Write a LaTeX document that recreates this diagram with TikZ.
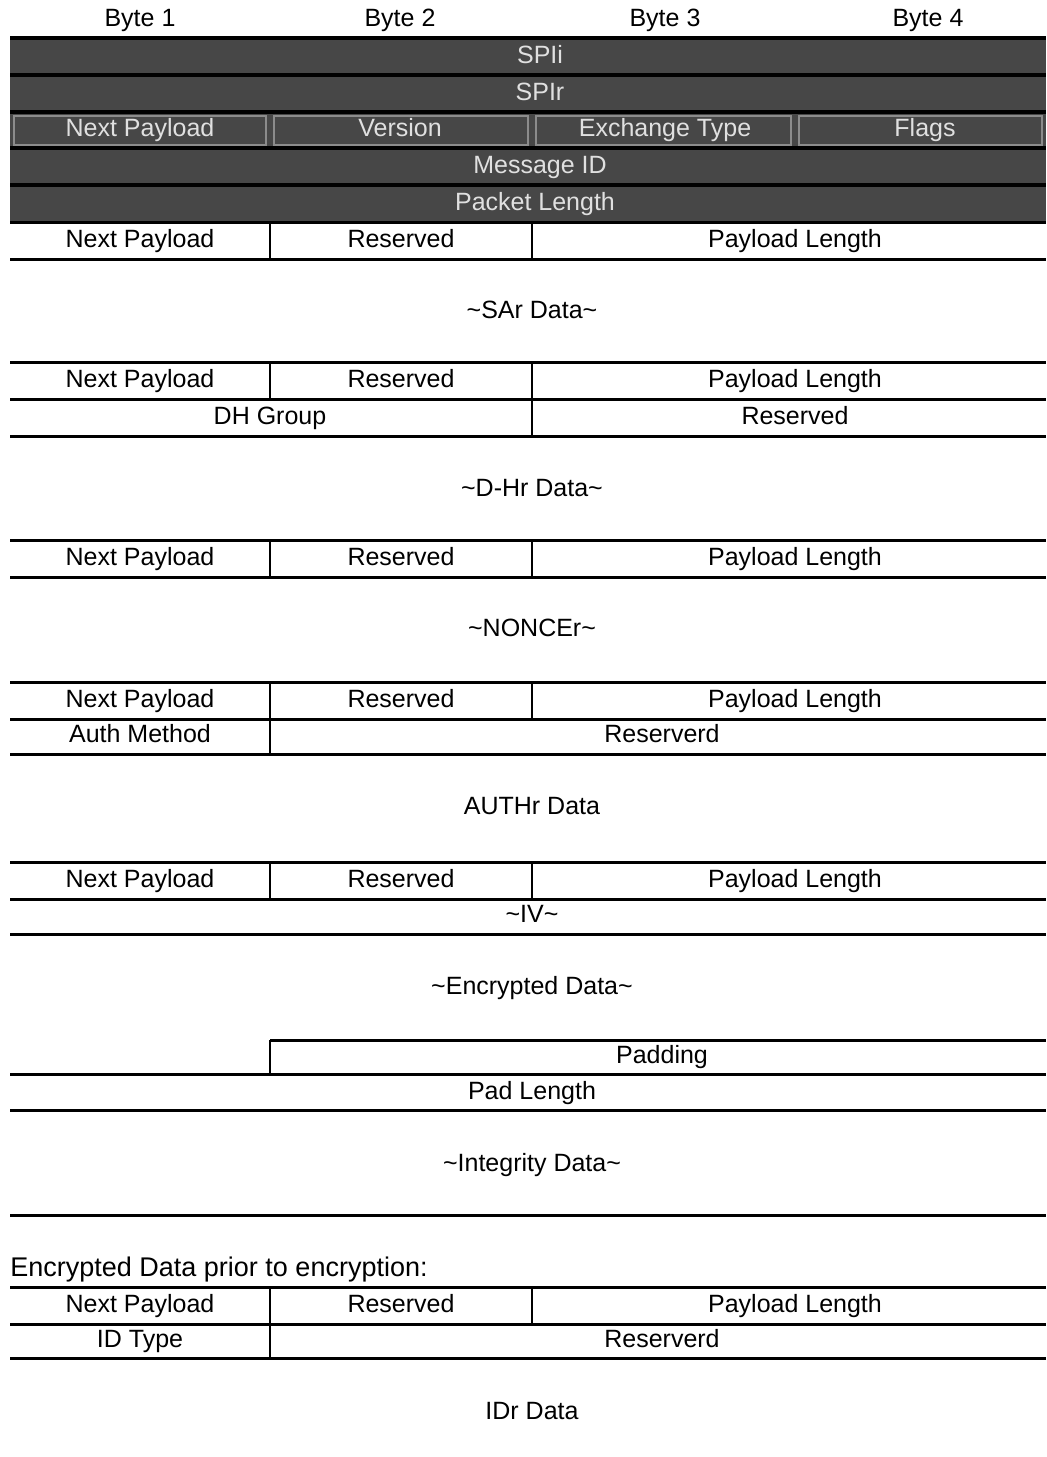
\documentclass[tikz,border=0pt]{standalone}
\usepackage{fontspec}
\setmainfont{Liberation Sans}
\begin{document}
\begin{tikzpicture}[x=0.5pt,y=-0.5pt,
  fld/.style={font=\fontsize{12.5}{14}\selectfont,inner sep=0pt,
    text height=1.6ex,text depth=.45ex},
  hfld/.style={fld,text=black!12},
  note/.style={fld},
  rule/.style={line width=1.5pt},
  bar/.style={line width=1pt}]
\useasboundingbox (0,0) rectangle (1046,1457);
% byte columns
\foreach \x/\n in {140/1,400/2,665/3,928/4}
  \node[fld] (byte\n) at (\x,20) {Byte \n};
% grey header
\fill[black!72] (10,38) rectangle (1046,222);
\foreach \y in {38,75,112,148,185}
  \draw[line width=2pt] (10,\y) -- (1046,\y);
\foreach \a/\b in {14/266,274/528,536/791,799/1042}
  \draw[black!45,line width=1pt] (\a,116) rectangle (\b,145);
\node[hfld] (spii) at (540,57) {SPIi};
\node[hfld] (spir) at (540,94) {SPIr};
\node[hfld] (hnext) at (140,130) {Next Payload};
\node[hfld] (hver) at (400,130) {Version};
\node[hfld] (hexch) at (665,130) {Exchange Type};
\node[hfld] (hflag) at (925,130) {Flags};
\node[hfld] (hmsg) at (540,167) {Message ID};
\node[hfld] (hlen) at (535,204) {Packet Length};
% generic payload headers
\foreach \t [count=\i] in {222,362,540,682,862,1287} {
  \draw[rule] (10,\t) -- (1046,\t);
  \draw[rule] (10,\t+37) -- (1046,\t+37);
  \draw[bar] (270,\t) -- (270,\t+37);
  \draw[bar] (532,\t) -- (532,\t+37);
  \node[fld] (next\i) at (140,\t+19) {Next Payload};
  \node[fld] (resv\i) at (401,\t+19) {Reserved};
  \node[fld] (plen\i) at (795,\t+19) {Payload Length};
}
% SA
\node[note] (sar) at (532,312) {\textasciitilde SAr Data\textasciitilde};
% KE
\draw[bar] (532,399) -- (532,436);
\draw[rule] (10,436) -- (1046,436);
\node[fld] (dhgrp) at (270,418) {DH Group};
\node[fld] (dhres) at (795,418) {Reserved};
\node[note] (dhr) at (532,490) {\textasciitilde D-Hr Data\textasciitilde};
% nonce
\node[note] (noncer) at (532,630) {\textasciitilde NONCEr\textasciitilde};
% auth
\draw[bar] (270,719) -- (270,754);
\draw[rule] (10,754) -- (1046,754);
\node[fld] (authm) at (140,736) {Auth Method};
\node[fld] (authres) at (662,736) {Reserverd};
\node[note] (authr) at (532,808) {AUTHr Data};
% encrypted
\draw[rule] (10,934) -- (1046,934);
\node[fld] (iv) at (532,916) {\textasciitilde IV\textasciitilde};
\node[note] (encr) at (532,988) {\textasciitilde Encrypted Data\textasciitilde};
\draw[rule] (270,1040) -- (1046,1040);
\draw[bar] (270,1040) -- (270,1074);
\draw[rule] (10,1074) -- (1046,1074);
\draw[rule] (10,1110) -- (1046,1110);
\node[fld] (pad) at (662,1057) {Padding};
\node[fld] (padlen) at (532,1093) {Pad Length};
\node[note] (integ) at (532,1165) {\textasciitilde Integrity Data\textasciitilde};
\draw[rule] (10,1215) -- (1046,1215);
% inner payload
\node[fld,font=\fontsize{13.5}{15}\selectfont,anchor=west] (prior) at (10,1270) {Encrypted Data prior to encryption:};
\draw[bar] (270,1324) -- (270,1358);
\draw[rule] (10,1358) -- (1046,1358);
\node[fld] (idtype) at (140,1341) {ID Type};
\node[fld] (idres) at (662,1341) {Reserverd};
\node[note] (idr) at (532,1413) {IDr Data};
\end{tikzpicture}
\end{document}
